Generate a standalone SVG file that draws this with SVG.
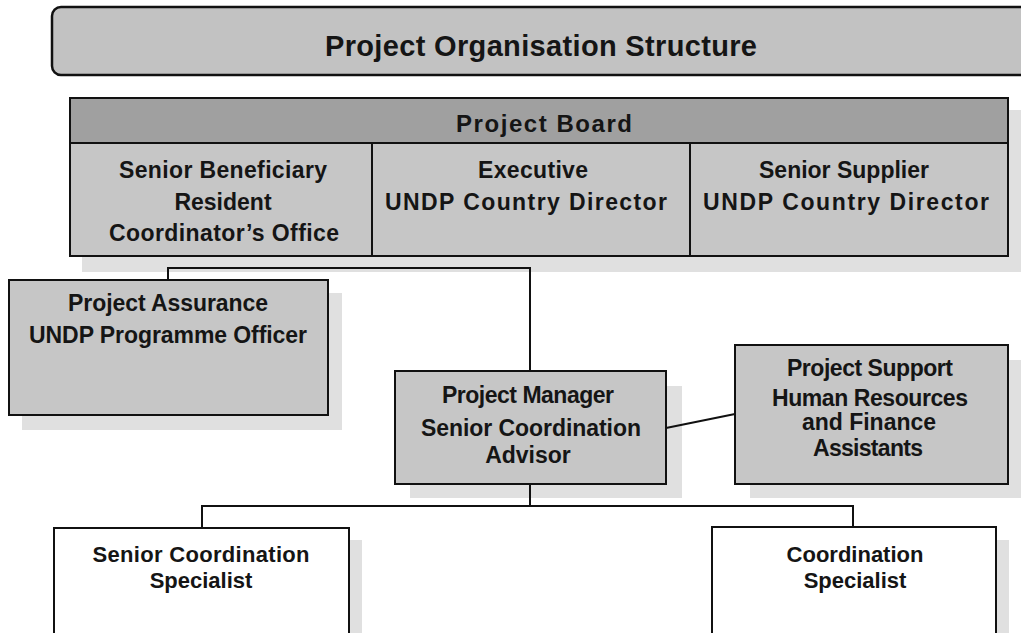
<svg xmlns="http://www.w3.org/2000/svg" width="1021" height="633" viewBox="0 0 1021 633">
<style>
text{font-family:"Liberation Sans",Arial,sans-serif;font-weight:bold;fill:#151515;text-anchor:middle;font-size:23px}
.box{stroke:#111;stroke-width:2;fill:#c6c6c6}
.white{stroke:#111;stroke-width:2;fill:#fff}
.shadow{fill:#e0e0e0;stroke:none}
.hdr{stroke:#111;stroke-width:2;fill:#a0a0a0}
.conn{stroke:#111;stroke-width:2;fill:none}
.hb{font-size:24px}
.sm{font-size:22px}
</style>
<rect width="1021" height="633" fill="#fff"/>
<g id="title">
<rect x="52" y="7" width="990" height="68" rx="9" ry="9" fill="#c2c2c2" stroke="#111" stroke-width="2.5"/>
<text x="541" y="56" style="font-size:29px" textLength="432">Project Organisation Structure</text>
</g>
<g id="project-board">
<rect class="shadow" x="82" y="110" width="939" height="162"/>
<rect class="box" x="70" y="98" width="938" height="158"/>
<rect class="hdr" x="70" y="98" width="938" height="45"/>
<line class="conn" x1="372" y1="143" x2="372" y2="256"/>
<line class="conn" x1="690" y1="143" x2="690" y2="256"/>
<text class="hb" x="544" y="132" textLength="176">Project Board</text>
<text x="223" y="178" textLength="208">Senior Beneficiary</text>
<text x="223" y="210">Resident</text>
<text x="224" y="241" textLength="230">Coordinator’s Office</text>
<text x="533" y="178" textLength="110">Executive</text>
<text x="526" y="210" textLength="282">UNDP Country Director</text>
<text x="844" y="178">Senior Supplier</text>
<text x="846" y="210" textLength="286">UNDP Country Director</text>
</g>
<g id="project-assurance">
<rect class="shadow" x="22" y="293" width="320" height="137"/>
<rect class="box" x="9" y="280" width="319" height="135"/>
<text x="168" y="311" textLength="200">Project Assurance</text>
<text x="168" y="343" textLength="278">UNDP Programme Officer</text>
</g>
<g id="project-manager">
<rect class="shadow" x="410" y="386" width="272" height="112"/>
<rect class="box" x="395" y="371" width="271" height="113"/>
<text x="528" y="403" textLength="172">Project Manager</text>
<text x="531" y="436" textLength="220">Senior Coordination</text>
<text x="528" y="463">Advisor</text>
</g>
<g id="project-support">
<rect class="shadow" x="750" y="360" width="271" height="138"/>
<rect class="box" x="735" y="345" width="273" height="139"/>
<text x="870" y="376" textLength="166">Project Support</text>
<text x="870" y="406" textLength="196">Human Resources</text>
<text x="869" y="430" textLength="134">and Finance</text>
<text x="868" y="456" textLength="110">Assistants</text>
</g>
<g id="senior-coordination-specialist">
<rect class="shadow" x="348" y="540" width="14" height="93"/>
<rect class="white" x="54" y="528" width="295" height="110"/>
<text class="sm" x="201" y="562" textLength="217">Senior Coordination</text>
<text class="sm" x="201" y="588">Specialist</text>
</g>
<g id="coordination-specialist">
<rect class="shadow" x="995" y="540" width="14" height="93"/>
<rect class="white" x="712" y="527" width="284" height="111"/>
<text class="sm" x="855" y="562">Coordination</text>
<text class="sm" x="855" y="588">Specialist</text>
</g>
<g id="connectors">
<polyline class="conn" points="168,280 168,268 530,268 530,371"/>
<line class="conn" x1="666" y1="428" x2="735" y2="414"/>
<polyline class="conn" points="202,528 202,506 853,506 853,527"/>
<line class="conn" x1="530" y1="484" x2="530" y2="506"/>
</g>
</svg>
